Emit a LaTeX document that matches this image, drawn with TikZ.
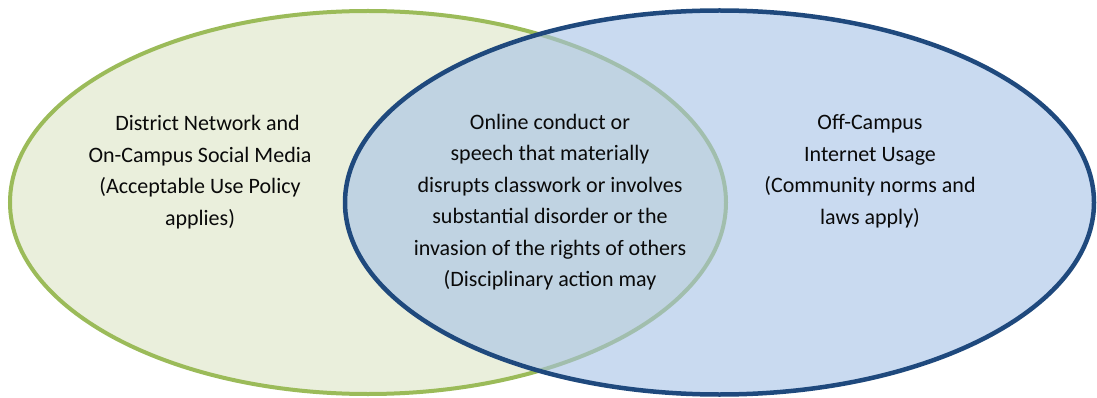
\documentclass[tikz,border=0pt]{standalone}
\usepackage{fontspec}
\setmainfont{Carlito}
\definecolor{greenfill}{RGB}{234,239,220}
\definecolor{greenline}{RGB}{155,187,89}
\definecolor{bluefill}{RGB}{165,193,230}
\definecolor{blueline}{RGB}{31,73,125}
\definecolor{txt}{RGB}{10,10,10}
\tikzset{
  setleft/.style={fill=greenfill, draw=greenline, line width=4pt},
  setright/.style={fill=bluefill, fill opacity=0.6, draw=blueline, draw opacity=1, line width=4.5pt},
  label/.style={align=center, text=txt, font=\fontsize{22}{31.5}\selectfont, inner sep=0pt}
}
\begin{document}
\begin{tikzpicture}[x=1pt,y=-1pt]
\useasboundingbox (0,0) rectangle (1097,398);
\path[setleft] (368,202.5) ellipse [x radius=358, y radius=191.5];
\path[setright] (719.5,202.5) ellipse [x radius=374.5, y radius=192];
\node[label] (left) at (200,172) {\hspace*{15pt}District Network and\\On-Campus Social Media\\(Acceptable Use Policy\\applies)};
\node[label] (mid) at (550,202) {Online conduct or\\speech that materially\\disrupts classwork or involves\\substantial disorder or the\\invasion of the rights of others\\(Disciplinary action may};
\node[label] (right) at (870,171) {Off-Campus\\Internet Usage\\(Community norms and\\laws apply)};
\end{tikzpicture}
\end{document}
